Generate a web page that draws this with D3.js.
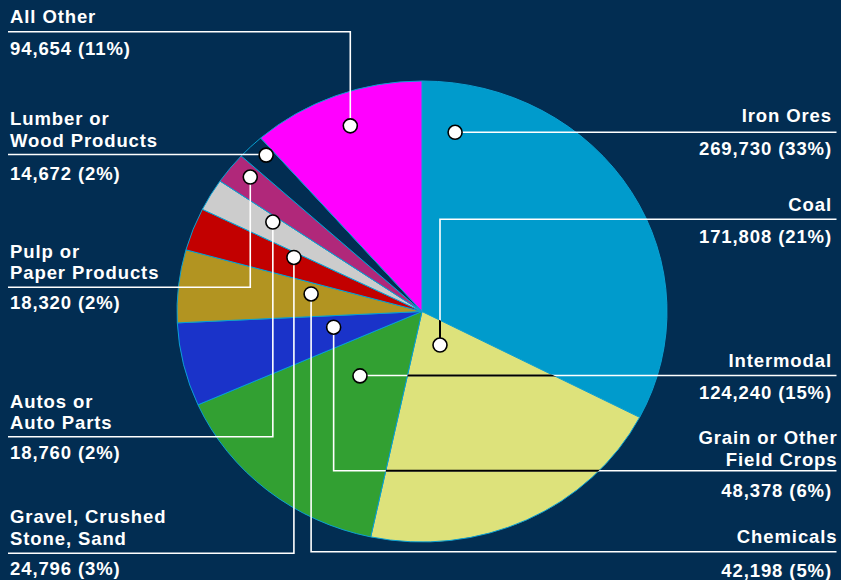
<!DOCTYPE html>
<html>
<head>
<meta charset="utf-8">
<script src="https://cdn.jsdelivr.net/npm/d3@7/dist/d3.min.js"></script>
<style>
  html, body { margin: 0; padding: 0; background: #022d52; }
  svg { display: block; }
  text { font-family: "Liberation Sans", Arial, Helvetica, sans-serif; font-weight: bold; font-size: 18.5px; fill: #ffffff; letter-spacing: 0.9px; }
</style>
</head>
<body>
<svg id="chart" width="841" height="580"></svg>
<script>
// ---- data ----
const categories = ["Iron Ores", "Coal", "Intermodal", "Grain or Other Field Crops", "Chemicals",
  "Gravel, Crushed Stone, Sand", "Autos or Auto Parts", "Pulp or Paper Products", "Lumber or Wood Products", "All Other"];
const labelLines = [["Iron Ores"], ["Coal"], ["Intermodal"], ["Grain or Other", "Field Crops"], ["Chemicals"],
  ["Gravel, Crushed", "Stone, Sand"], ["Autos or", "Auto Parts"], ["Pulp or", "Paper Products"], ["Lumber or", "Wood Products"], ["All Other"]];
const values = [269730, 171808, 124240, 48378, 42198, 24796, 18760, 18320, 14672, 94654];
const colors = ["#009bcc", "#dde27b", "#32a032", "#1a33c9", "#b29421", "#c20000", "#cccccc", "#b0287a", "#022d52", "#ff00ff"];

// ---- layout (annotation placement, not data) ----
// t: position within the slice's angular span, r: fraction of radius
const anchorT = [0.084, 0.48, 0.557, 0.627, 0.675, 0.80, 0.76, 0.665, 0.69, 0.515];
const anchorR = [0.789, 0.163, 0.377, 0.367, 0.459, 0.573, 0.722, 0.912, 0.93, 0.857];
const side    = ["right", "right", "right", "right", "right", "left", "left", "left", "left", "left"];
const lineYs  = [132.3, 219.3, 375.5, 470.7, 551.7, 553.3, 436.7, 287.3, 154.5, 31.7];
const nameYs  = [122, 210.7, 366.7, 465.7, 543.3, 545, 429.3, 279.3, 146.7, 22.7]; // baseline of last name line
const valueYs = [154.5, 243.3, 399.3, 496.7, 576.7, 575, 459.3, 309, 180, 55];
const nameXs  = [832, 832, 832, 837.5, 837.5, 10, 10, 10, 10, 10];
const valueXs = [832, 832, 832, 832, 832, 10, 10, 10, 10, 10];

const W = 841, H = 580;
const cx = 422, cy = 311.5, rx = 245, ry = 230.5;
const k = ry / rx;

const svg = d3.select("#chart");
svg.append("rect").attr("width", W).attr("height", H).attr("fill", "#022d52");

const data = values.map((v, i) => ({ name: categories[i], value: v, i }));
const total = d3.sum(values);
const pie = d3.pie().value(d => d.value).sort(null).startAngle(0).endAngle(2 * Math.PI);
const arcs = pie(data);
const arc = d3.arc().innerRadius(0).outerRadius(rx);

const pieTransform = `translate(${cx},${cy}) scale(1,${k})`;

// clip path for the light (Coal) slice: leader lines turn dark over it
const defs = svg.append("defs");
defs.append("clipPath").attr("id", "lightClip")
  .append("path")
  .attr("transform", pieTransform)
  .attr("d", arc(arcs[1]));

const g = svg.append("g").attr("transform", pieTransform);
g.selectAll("path.slice")
  .data(arcs)
  .join("path")
  .attr("class", "slice")
  .attr("d", arc)
  .attr("fill", d => colors[d.data.i])
  .attr("stroke", "#0aa0d2")
  .attr("stroke-width", 1)
  .attr("vector-effect", "non-scaling-stroke");

// anchors
const anchors = arcs.map((a, i) => {
  const ang = a.startAngle + anchorT[i] * (a.endAngle - a.startAngle);
  return {
    x: cx + rx * anchorR[i] * Math.sin(ang),
    y: cy - ry * anchorR[i] * Math.cos(ang)
  };
});

const leftEdge = 8, rightEdge = 836.5;
const linePaths = anchors.map((p, i) => {
  const ly = lineYs[i];
  const ex = side[i] === "right" ? rightEdge : leftEdge;
  if (Math.abs(ly - p.y) < 3) {
    return `M${p.x},${ly}H${ex}`;
  }
  return `M${p.x},${p.y}V${ly}H${ex}`;
});

const lines = svg.append("g");
lines.selectAll("path")
  .data(linePaths)
  .join("path")
  .attr("d", d => d)
  .attr("fill", "none")
  .attr("stroke", "#ffffff")
  .attr("stroke-width", 1.6);

svg.append("g").attr("clip-path", "url(#lightClip)")
  .selectAll("path")
  .data(linePaths)
  .join("path")
  .attr("d", d => d)
  .attr("fill", "none")
  .attr("stroke", "#000000")
  .attr("stroke-width", 2);

svg.append("g").selectAll("circle")
  .data(anchors)
  .join("circle")
  .attr("cx", d => d.x)
  .attr("cy", d => d.y)
  .attr("r", 7)
  .attr("fill", "#ffffff")
  .attr("stroke", "#000000")
  .attr("stroke-width", 1.6);

// labels
const fmt = d3.format(",");
const lineH = 21.7;
const labels = svg.append("g");
data.forEach((d, i) => {
  const anchor = side[i] === "right" ? "end" : "start";
  const ls = labelLines[i];
  ls.forEach((t, j) => {
    labels.append("text")
      .attr("x", nameXs[i])
      .attr("y", nameYs[i] - (ls.length - 1 - j) * lineH)
      .attr("text-anchor", anchor)
      .text(t);
  });
  const pct = Math.round(d.value / total * 100);
  labels.append("text")
    .attr("x", valueXs[i])
    .attr("y", valueYs[i])
    .attr("text-anchor", anchor)
    .text(`${fmt(d.value)} (${pct}%)`);
});
</script>
</body>
</html>
